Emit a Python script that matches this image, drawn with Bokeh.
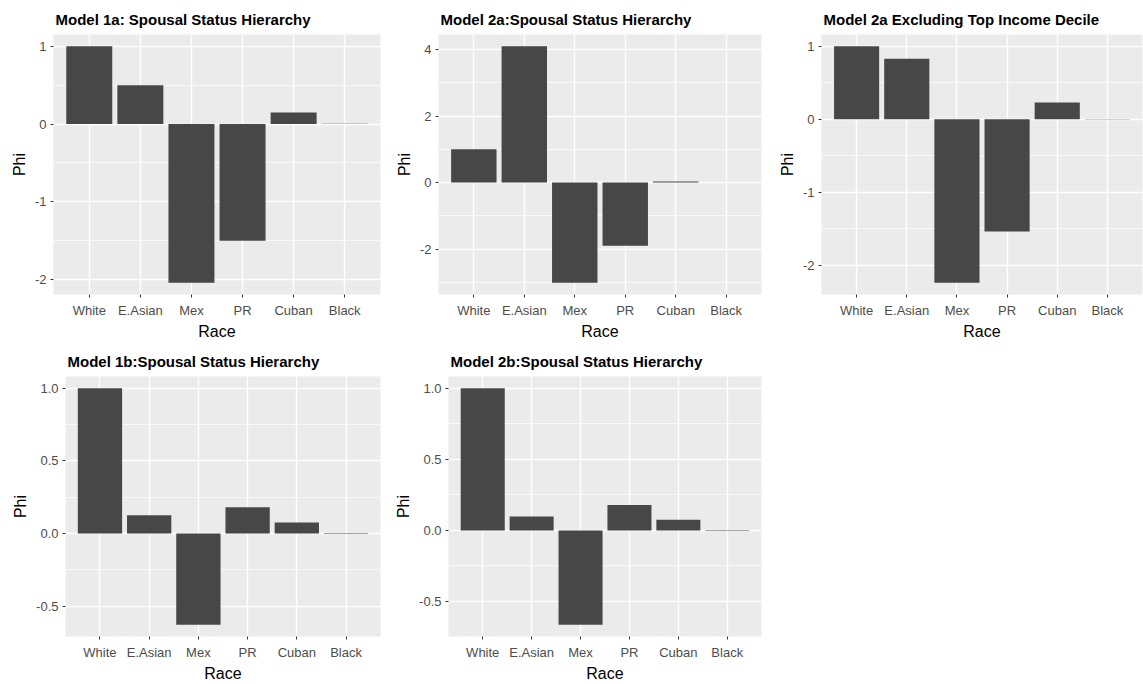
from bokeh.plotting import figure
from bokeh.layouts import column, row
from bokeh.models import FixedTicker, Range1d, ColumnDataSource
from bokeh.embed import file_html
from bokeh.resources import INLINE

races = ["White", "E.Asian", "Mex", "PR", "Cuban", "Black"]

phi_1a = [1.0, 0.50, -2.04, -1.50, 0.15, 0.005]
phi_2a = [1.0, 4.10, -3.01, -1.90, 0.03, 0.005]
phi_2a_excl = [1.0, 0.83, -2.24, -1.54, 0.23, 0.005]
phi_1b = [1.0, 0.127, -0.627, 0.182, 0.077, 0.004]
phi_2b = [1.0, 0.098, -0.663, 0.179, 0.075, 0.003]

titles = [
    "Model 1a: Spousal Status Hierarchy",
    "Model 2a:Spousal Status Hierarchy",
    "Model 2a Excluding Top Income Decile",
    "Model 1b:Spousal Status Hierarchy",
    "Model 2b:Spousal Status Hierarchy",
]

ticks_int_a = [-2, -1, 0, 1]
minor_int_a = [-1.5, -0.5, 0.5]
ticks_2a = [-2, 0, 2, 4]
minor_2a = [-3, -1, 1, 3]
ticks_b = [-0.5, 0.0, 0.5, 1.0]
minor_b = [-0.25, 0.25, 0.75]
labels_int_a = ["-2", "-1", "0", "1"]
labels_2a = ["-2", "0", "2", "4"]
labels_b = ["-0.5", "0.0", "0.5", "1.0"]

FONT = "Liberation Sans"


def make_panel(title, values, ticks, minor, labels, left_border):
    lo = min(0.0, min(values))
    hi = max(0.0, max(values))
    pad = (hi - lo) * 0.05
    p = figure(x_range=races, width=381, height=342,
               output_backend="svg", toolbar_location=None,
               y_range=Range1d(lo - pad, hi + pad),
               title=title, min_border_left=left_border, min_border_right=1,
               min_border_top=34, min_border_bottom=5)
    p.x_range.range_padding = 0.2
    p.x_range.range_padding_units = "absolute"
    src = ColumnDataSource(dict(race=races, phi=values))
    p.vbar(x="race", top="phi", bottom=0, width=0.9, source=src,
           fill_color="#474747", line_color=None)
    p.background_fill_color = "#EBEBEB"
    p.border_fill_color = "white"
    p.outline_line_color = None

    p.title.text_font = FONT
    p.title.text_font_size = "15px"
    p.title.text_font_style = "bold"
    p.title.text_color = "black"
    p.title.align = "left"
    p.title.offset = 2
    p.title.standoff = 10
    p.title.vertical_align = "top"

    p.yaxis.ticker = FixedTicker(ticks=ticks, minor_ticks=minor)
    p.yaxis.major_label_overrides = {t: l for t, l in zip(ticks, labels)}

    for ax in (p.xaxis[0], p.yaxis[0]):
        ax.axis_line_color = None
        ax.major_tick_line_color = "#333333"
        ax.major_tick_in = 0
        ax.major_tick_out = 3
        ax.minor_tick_line_color = None
        ax.major_label_text_font = FONT
        ax.major_label_text_font_size = "13px"
        ax.major_label_text_color = "#4D4D4D"
        ax.axis_label_text_font = FONT
        ax.axis_label_text_font_size = "16px"
        ax.axis_label_text_font_style = "normal"
        ax.axis_label_text_color = "black"
        ax.major_label_standoff = 3
        ax.axis_label_standoff = 4
    p.xaxis.major_label_standoff = 5
    p.xaxis.axis_label_standoff = 2
    p.xaxis.axis_label = "Race"
    p.yaxis.axis_label = "Phi"

    p.xgrid.grid_line_color = "white"
    p.xgrid.grid_line_width = 1.4
    p.ygrid.grid_line_color = "white"
    p.ygrid.grid_line_width = 1.4
    p.ygrid.minor_grid_line_color = "white"
    p.ygrid.minor_grid_line_width = 0.7
    return p


p1 = make_panel(titles[0], phi_1a, ticks_int_a, minor_int_a, labels_int_a, 53)
p2 = make_panel(titles[1], phi_2a, ticks_2a, minor_2a, labels_2a, 57)
p3 = make_panel(titles[2], phi_2a_excl, ticks_int_a, minor_int_a, labels_int_a, 59)
p4 = make_panel(titles[3], phi_1b, ticks_b, minor_b, labels_b, 65)
p5 = make_panel(titles[4], phi_2b, ticks_b, minor_b, labels_b, 67)

layout = column(row(p1, p2, p3), row(p4, p5))
open("out.html", "w").write(file_html(layout, INLINE))
